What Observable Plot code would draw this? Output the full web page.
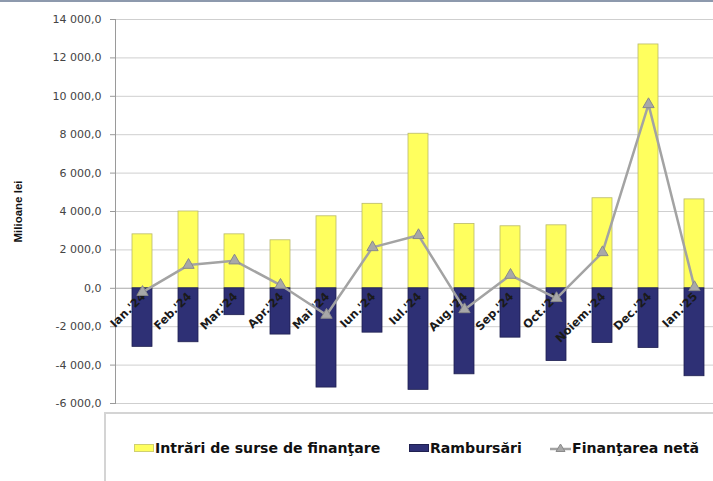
<!DOCTYPE html>
<html>
<head>
<meta charset="utf-8">
<script src="https://cdn.jsdelivr.net/npm/d3@7"></script>
<script src="https://cdn.jsdelivr.net/npm/@observablehq/plot@0.6"></script>
<style>
  html, body { margin: 0; padding: 0; background: #fff; }
  #wrap { position: relative; width: 713px; height: 481px; overflow: hidden; }
  #topline { position: absolute; left: 0; top: 0; width: 713px; height: 2px; background: #8d99ad; }
  #legend { position: absolute; left: 104px; top: 412px; width: 640px; height: 80px;
            border-top: 2px solid #d4d4d4; border-left: 2px solid #d4d4d4; background: #fff; }
  .item { position: absolute; top: 26px; display: flex; align-items: center;
          font-family: "DejaVu Sans", Verdana, sans-serif; font-weight: bold; font-size: 14.1px; color: #111; white-space: nowrap; }
  .sw { width: 20px; height: 8px; margin-right: 1px; }
</style>
</head>
<body>
<div id="wrap">
  <div id="chart"></div>
  <div id="topline"></div>
  <div id="legend"></div>
</div>
<script>
const labels = ["Ian.'24","Feb.'24","Mar.'24","Apr.'24","Mai '24","Iun.'24","Iul.'24","Aug.'24","Sep.'24","Oct.'24","Noiem.'24","Dec.'24","Ian.'25"];
const inflows = [2810, 4000, 2810, 2500, 3750, 4400, 8050, 3350, 3230, 3280, 4690, 12700, 4630];
const repayments = [-3050, -2810, -1400, -2410, -5170, -2310, -5290, -4480, -2570, -3790, -2850, -3110, -4580];
const net = [-200, 1210, 1440, 170, -1390, 2130, 2760, -1100, 690, -520, 1870, 9580, 50];
const yTicks = [-6000, -4000, -2000, 0, 2000, 4000, 6000, 8000, 10000, 12000, 14000];
const seriesNames = ["Intrări de surse de finanţare", "Rambursări", "Finanţarea netă"];
const yTitle = "Milioane lei";

const colIn = "#ffff5e", colOut = "#2e3075", colNet = "#a3a3a3";

const data = labels.map((l, i) => ({label: l, inflow: inflows[i], repay: repayments[i], net: net[i]}));
const fmt = d3.formatLocale({decimal: ",", thousands: " ", grouping: [3], currency: ["", ""], minus: "-"}).format(",.1f");

const chart = Plot.plot({
  width: 713,
  height: 412,
  marginTop: 19,
  marginBottom: 9,
  marginLeft: 115,
  marginRight: -8,
  style: {background: "transparent", overflow: "hidden"},
  x: {domain: labels, paddingInner: 0.57, paddingOuter: 0.285, axis: null},
  y: {domain: [-6000, 14000], axis: null},
  marks: [
    Plot.gridY(yTicks, {stroke: "#cfcfcf", strokeOpacity: 1, strokeWidth: 1}),
    Plot.ruleY([0], {stroke: "#b8b8b8", strokeWidth: 1}),
    Plot.frame({anchor: "left", stroke: "#9a9a9a", strokeWidth: 1}),
    Plot.axisY(yTicks, {tickSize: 5, tickPadding: 9, tickFormat: fmt, fontSize: 11,
      fontFamily: "DejaVu Sans, Verdana, sans-serif", color: "#444", stroke: "#9a9a9a", label: null}),
    Plot.barY(data, {x: "label", y: "inflow", fill: colIn, stroke: "#b9b96a", strokeWidth: 0.8}),
    Plot.barY(data, {x: "label", y: "repay", fill: colOut, stroke: "#1f2050", strokeWidth: 0.8}),
    Plot.text(data, {x: "label", y: () => 0, text: "label", rotate: -45, textAnchor: "end",
      lineAnchor: "top", dx: -2, dy: 3, fontSize: 11.5, fontWeight: "bold",
      fontFamily: "DejaVu Sans, Verdana, sans-serif", fill: "#1a1a1a"}),
    Plot.lineY(data, {x: "label", y: "net", stroke: colNet, strokeWidth: 2.5}),
    Plot.dot(data, {x: "label", y: "net", symbol: "triangle", r: 4.2, fill: "#a8a8a8", stroke: "#8a8a8a", strokeWidth: 1}),
    Plot.text([yTitle], {frameAnchor: "left", textAnchor: "middle", dx: -97, rotate: -90, fontSize: 11.5, fontWeight: "bold",
      fontFamily: "Liberation Sans Narrow, Arial Narrow, sans-serif", fill: "#111"})
  ]
});
document.getElementById("chart").appendChild(chart);

// legend
const legend = document.getElementById("legend");
const lx = [28, 303, 444];
seriesNames.forEach((name, i) => {
  const it = document.createElement("div");
  it.className = "item";
  it.style.left = lx[i] + "px";
  let sw;
  if (i < 2) {
    sw = `<div class="sw" style="background:${i === 0 ? colIn : colOut};border:1px solid ${i === 0 ? "#d0d070" : "#1f2050"};box-sizing:border-box"></div>`;
  } else {
    sw = `<svg width="21" height="12" style="margin-right:1px"><line x1="0" y1="7" x2="21" y2="7" stroke="${colNet}" stroke-width="2.5"/><path d="M10.5,2 L15,9.5 L6,9.5 Z" fill="#a8a8a8" stroke="#8a8a8a" stroke-width="1"/></svg>`;
  }
  it.innerHTML = sw + `<span>${name}</span>`;
  legend.appendChild(it);
});
</script>
</body>
</html>
